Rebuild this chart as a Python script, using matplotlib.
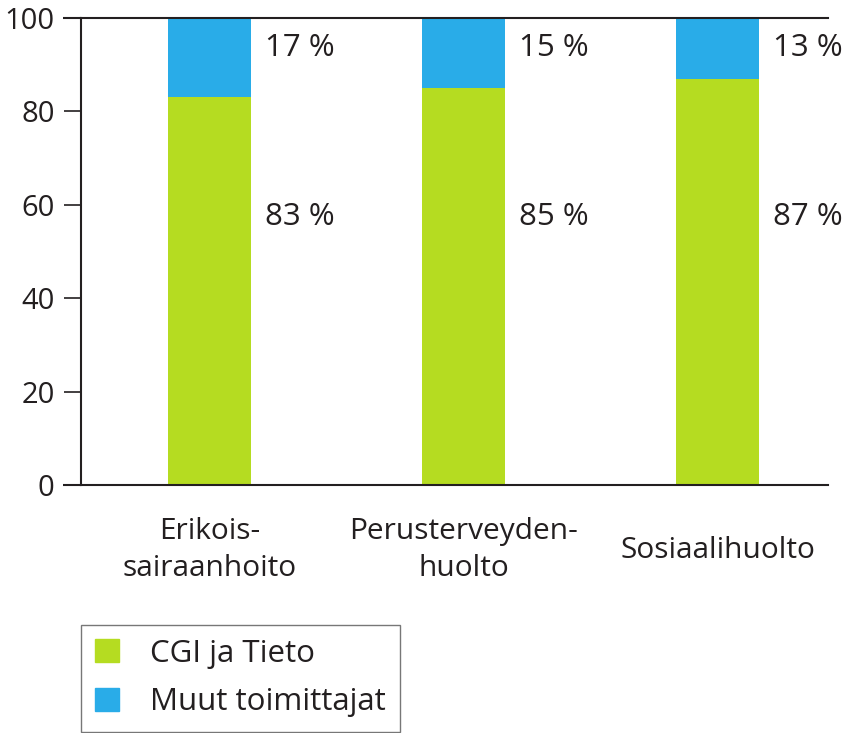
import matplotlib
matplotlib.use('Agg')
import matplotlib.pyplot as plt
import matplotlib.patches as mpatches
import numpy as np

plt.rcParams['font.family'] = ['Open Sans', 'DejaVu Sans']

# ── Data ──────────────────────────────────────────────────────────────────────
categories = ['Erikois-\nsairaanhoito', 'Perusterveyden-\nhuolto', 'Sosiaalihuolto']
cgi_tieto = [83, 85, 87]
muut = [17, 15, 13]
series_names = ['CGI ja Tieto', 'Muut toimittajat']

GREEN = '#b5dc21'
BLUE = '#29ace8'
INK = '#231f20'

W, H = 844, 733
fig = plt.figure(figsize=(W / 100, H / 100), dpi=100)
ax = fig.add_axes([81 / W, 1 - 485 / H, (828 - 81) / W, (485 - 18) / H])

x = np.arange(len(categories))
bw = 83 / 254
ax.bar(x, cgi_tieto, width=bw, color=GREEN, zorder=2)
ax.bar(x, muut, width=bw, bottom=cgi_tieto, color=BLUE, zorder=2)

# value labels to the right of each bar
for xi, g, b in zip(x, cgi_tieto, muut):
    ax.text(xi + bw / 2 + 14 / 254, 93.6, f'{b} %', fontsize=22.5, color=INK,
            va='center', ha='left')
    ax.text(xi + bw / 2 + 14 / 254, 57.4, f'{g} %', fontsize=22.5, color=INK,
            va='center', ha='left')

ax.set_xlim((81 - 209.5) / 254, (828 - 209.5) / 254)
ax.set_ylim(0, 100)
ax.set_yticks([0, 20, 40, 60, 80, 100])
ax.set_xticks(x)
ax.set_xticklabels(categories, fontsize=21.5, color=INK, va='center', linespacing=1.35)
ax.tick_params(axis='x', length=0, pad=47)
ax.tick_params(axis='y', length=12, width=1.2, color=INK, labelsize=21,
               labelcolor=INK, pad=7)

for side in ['top', 'bottom', 'left']:
    ax.spines[side].set_color(INK)
    ax.spines[side].set_linewidth(1.5)
ax.spines['right'].set_visible(False)

# top/bottom lines extend left over the tick length
for yv in [0, 100]:
    ax.plot([-18 / 747, 0], [yv, yv], transform=ax.get_yaxis_transform(),
            color=INK, lw=1.5, clip_on=False, solid_capstyle='butt')

handles = [mpatches.Patch(color=GREEN, label=series_names[0]),
           mpatches.Patch(color=BLUE, label=series_names[1])]
leg = fig.legend(handles=handles, loc='lower left',
                 bbox_to_anchor=(81 / W, 1.5 / H), borderaxespad=0,
                 fontsize=22.5, frameon=True, fancybox=False, edgecolor='#555555',
                 handlelength=0.75, handleheight=0.75, handletextpad=1.0,
                 labelspacing=0.6, borderpad=0.45, labelcolor=INK)
leg.get_frame().set_linewidth(1.0)

fig.savefig('out.png', dpi=100)
